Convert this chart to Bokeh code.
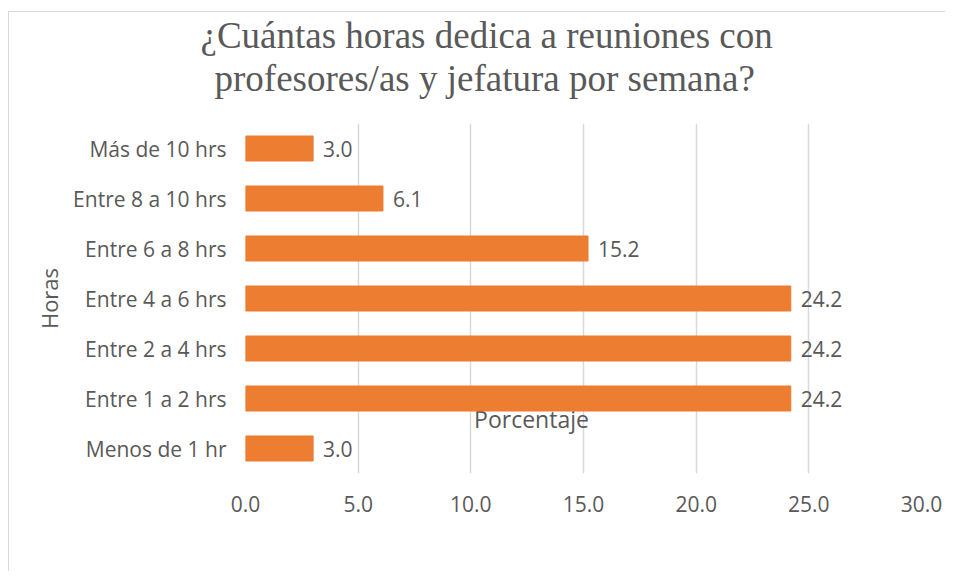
from bokeh.plotting import figure
from bokeh.models import (FactorRange, Range1d, FixedTicker, NumeralTickFormatter,
                          ColumnDataSource, Label, Title)
from bokeh.core.properties import value
from bokeh.embed import file_html
from bokeh.resources import INLINE

# Data (top to bottom as in the chart)
categories = ["Más de 10 hrs", "Entre 8 a 10 hrs", "Entre 6 a 8 hrs", "Entre 4 a 6 hrs",
              "Entre 2 a 4 hrs", "Entre 1 a 2 hrs", "Menos de 1 hr"]
porcentajes = [3.0, 6.1, 15.2, 24.2, 24.2, 24.2, 3.0]
x_ticks = [0, 5, 10, 15, 20, 25, 30]
title_lines = ["¿Cuántas horas dedica a reuniones con", "profesores/as y jefatura por semana?"]
x_label = "Porcentaje"
y_label = "Horas"

ORANGE = "#ED7D31"
TEXT = "#595959"
GRID = "#D9D9D9"
FONT = "Open Sans"

source = ColumnDataSource(dict(
    cat=categories,
    val=porcentajes,
    lbl=[f"{v:.1f}" for v in porcentajes],
))

p = figure(width=945, height=571, output_backend="svg", toolbar_location=None,
           y_range=FactorRange(factors=categories[::-1]),
           x_range=Range1d(0, 30),
           min_border_left=245, min_border_right=24, min_border_top=123, min_border_bottom=98)
p.outline_line_color = None
p.background_fill_color = "white"
p.border_fill_alpha = 0
# thin light-grey chart border (top and left), as in the reference
p.styles = {"background": (
    "linear-gradient(to right, transparent 8px, #D9D9D9 8px, #D9D9D9 9px, transparent 9px) "
    "0px 11px / 100% 100% no-repeat, "
    "linear-gradient(to bottom, transparent 11px, #D9D9D9 11px, #D9D9D9 12px, transparent 12px) "
    "8px 0px / 100% 100% no-repeat, white")}

# Porcentaje label drawn beneath the bars (as in the reference)
p.add_layout(Label(x=286, y=55, x_units="screen", y_units="screen", text=x_label,
                   text_align="center", text_baseline="alphabetic",
                   text_font=FONT, text_font_size="23px", text_color=TEXT, level="underlay"))

p.hbar(y="cat", right="val", left=0, height=0.5, source=source,
       fill_color=ORANGE, line_color=ORANGE)
p.text(x="val", y="cat", text="lbl", source=source, x_offset=10,
       text_baseline="middle", text_align="left",
       text_font=value(FONT), text_font_size="21px", text_color=TEXT)

# Axes
p.xaxis.ticker = FixedTicker(ticks=x_ticks)
p.xaxis.formatter = NumeralTickFormatter(format="0.0")
for ax in (p.xaxis[0], p.yaxis[0]):
    ax.axis_line_color = None
    ax.major_tick_line_color = None
    ax.minor_tick_line_color = None
    ax.major_label_text_font = FONT
    ax.major_label_text_font_size = "21px"
    ax.major_label_text_color = TEXT
p.xaxis.major_label_standoff = 16
p.yaxis.major_label_standoff = 13
p.yaxis.axis_label = y_label
p.yaxis.axis_label_text_font = FONT
p.yaxis.axis_label_text_font_size = "22px"
p.yaxis.axis_label_text_font_style = "normal"
p.yaxis.axis_label_text_color = TEXT
p.yaxis.axis_label_standoff = 6

p.xgrid.grid_line_color = GRID
p.xgrid.grid_line_width = 1.5
p.ygrid.grid_line_color = None

# Title: spacer nearest the frame, then line 2, then line 1 (stacking upward)
p.add_layout(Title(text=" ", standoff=0, text_font_size="21px"), "above")
offsets = [-45, -31]
for i in (1, 0):
    p.add_layout(Title(text=title_lines[i], align="left", offset=offsets[i], standoff=0,
                       text_font="Liberation Serif", text_font_size="37px",
                       text_font_style="normal", text_color=TEXT), "above")

open("out.html", "w").write(file_html(p, INLINE))
